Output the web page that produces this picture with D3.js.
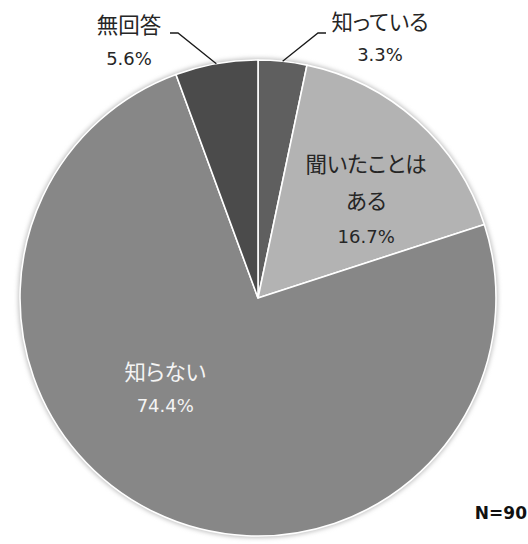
<!DOCTYPE html>
<html>
<head>
<meta charset="utf-8">
<script src="https://cdn.jsdelivr.net/npm/d3@7"></script>
<style>
  html, body { margin: 0; padding: 0; background: #fff; }
  svg { display: block; }
  text { font-family: "DejaVu Sans", "Noto Sans CJK JP", sans-serif; }
  tspan.jp { font-family: "Noto Sans CJK JP", sans-serif; font-feature-settings: "palt"; }
</style>
</head>
<body>
<svg id="chart" width="528" height="544"></svg>
<script>
// Survey answers, clockwise from 12 o'clock
const categories = ["知っている", "聞いたことはある", "知らない", "無回答"];
const values = [3.3, 16.7, 74.4, 5.6];
const labelLines = [["知っている"], ["聞いたことは", "ある"], ["知らない"], ["無回答"]];
const sampleNote = "N=90";

const colors = ["#5f5f5f", "#b3b3b3", "#878787", "#4b4b4b"];
const textColors = ["#262626", "#262626", "#f4f4f4", "#262626"];

const svg = d3.select("#chart");
const cx = 258, cy = 298, r = 238;

const defs = svg.append("defs");
defs.append("filter").attr("id", "halo")
  .attr("x", "-10%").attr("y", "-10%").attr("width", "120%").attr("height", "120%")
  .append("feGaussianBlur").attr("stdDeviation", 2);

const g = svg.append("g").attr("transform", `translate(${cx},${cy})`);

// soft grey halo round the pie
g.append("circle").attr("r", r + 2).attr("fill", "#c4c4c4").attr("filter", "url(#halo)");

const pie = d3.pie().sort(null).value(d => d.value);
const arcs = pie(categories.map((c, i) => ({ name: c, value: values[i], i })));
const arc = d3.arc().innerRadius(0).outerRadius(r);

g.selectAll("path.slice").data(arcs).enter().append("path")
  .attr("class", "slice")
  .attr("d", arc)
  .attr("fill", d => colors[d.data.i])
  .attr("stroke", "#ffffff")
  .attr("stroke-width", 1.6)
  .attr("stroke-linejoin", "round");

// placement of each label: inside labels by polar position, outside ones with leader lines
const fsJp = 21.5, fsNum = 18;
function polar(angleDeg, rad) {
  const a = angleDeg * Math.PI / 180;
  return [rad * Math.sin(a), -rad * Math.cos(a)];
}
const labelPlace = [
  { outside: true, pos: [122, -278], gap: 34, knee: [60, -265], lineEnd: [68, -265] },
  { outside: false, polarAt: [47.8, 146], gap: 37 },
  { outside: false, polarAt: [-134, 129], gap: 35 },
  { outside: true, pos: [-129, -275], gap: 35.5, knee: [-80, -265], lineEnd: [-88, -265] }
];

arcs.forEach(d => {
  const i = d.data.i;
  const p = labelPlace[i];
  const names = labelLines[i];
  const lines = names.concat([d.data.value.toFixed(1) + "%"]);
  let x, yTop;
  const gap = p.gap;
  if (p.outside) {
    const mid = (d.startAngle + d.endAngle) / 2;
    const edge = [r * Math.sin(mid), -r * Math.cos(mid)];
    g.append("polyline")
      .attr("points", [edge, p.knee, p.lineEnd].map(q => q.join(",")).join(" "))
      .attr("fill", "none").attr("stroke", "#1a1a1a").attr("stroke-width", 1.3);
    x = p.pos[0]; yTop = p.pos[1];
  } else {
    const c = polar(p.polarAt[0], p.polarAt[1]);
    x = c[0];
    yTop = c[1] - gap * (lines.length - 1) / 2;
  }
  const t = g.append("text")
    .attr("text-anchor", "middle")
    .attr("fill", textColors[i]);
  lines.forEach((ln, k) => {
    const isName = k < names.length;
    t.append("tspan")
      .attr("class", isName ? "jp" : null)
      .attr("font-size", isName ? fsJp : fsNum)
      .attr("x", x).attr("y", yTop + k * gap)
      .attr("dominant-baseline", "central").text(ln);
  });
});

svg.append("text")
  .attr("x", 527).attr("y", 513)
  .attr("text-anchor", "end").attr("dominant-baseline", "central")
  .attr("font-size", 17).attr("font-weight", "bold").attr("fill", "#111")
  .text(sampleNote);
</script>
</body>
</html>
